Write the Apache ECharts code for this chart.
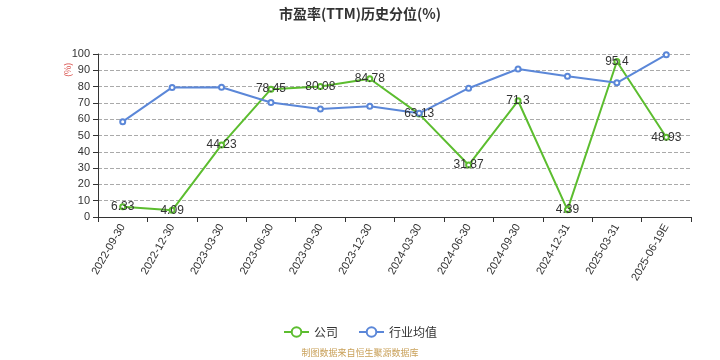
<!DOCTYPE html>
<html><head><meta charset="utf-8">
<script src="https://cdn.jsdelivr.net/npm/echarts@6/dist/echarts.min.js"></script>
<style>html,body{margin:0;padding:0;background:#fff}#c{width:720px;height:360px}</style>
</head><body><div id="c"></div>
<script>
var categories = ['2022-09-30','2022-12-30','2023-03-30','2023-06-30','2023-09-30','2023-12-30','2024-03-30','2024-06-30','2024-09-30','2024-12-31','2025-03-31','2025-06-19E'];
var companyValues = [6.33, 4.09, 44.23, 78.45, 80.08, 84.78, 63.13, 31.87, 71.3, 4.39, 95.4, 48.93];
var industryValues = [58.5, 79.5, 79.6, 70.2, 66.2, 67.9, 63.6, 79.0, 90.8, 86.3, 82.3, 99.6];
var yTicks = {min: 0, max: 100, interval: 10};

var chart = echarts.init(document.getElementById('c'));
chart.setOption({
  animation: false,
  title: {text: '市盈率(TTM)历史分位(%)', left: 'center', top: 2, textStyle: {fontSize: 14, fontWeight: 'bold', color: '#333', fontFamily: 'Noto Sans CJK SC'}},
  grid: {left: 98, right: 29, top: 54, bottom: 143},
  legend: {bottom: 17, itemWidth: 25, itemHeight: 12, itemGap: 20, textStyle: {fontSize: 12, color: '#333', fontFamily: 'Noto Sans CJK SC'}, data: ['公司', '行业均值']},
  graphic: [
    {type: 'text', left: 'center', top: 348, style: {text: '制图数据来自恒生聚源数据库', fontSize: 9, fill: '#c9a15a', fontFamily: 'Noto Sans CJK SC'}},
    {type: 'text', x: 63, y: 77, rotation: Math.PI / 2, style: {text: '(%)', fontSize: 9, fill: '#d9534f', fontFamily: 'Noto Sans CJK SC'}}
  ],
  xAxis: {
    type: 'category', data: categories, boundaryGap: true,
    axisLine: {lineStyle: {color: '#333'}},
    axisTick: {show: true, alignWithLabel: false, lineStyle: {color: '#333'}},
    axisLabel: {rotate: 60, fontSize: 11, color: '#333', interval: 0, margin: 8}
  },
  yAxis: {
    type: 'value', min: yTicks.min, max: yTicks.max, interval: yTicks.interval,
    axisLine: {show: true, lineStyle: {color: '#333'}},
    axisTick: {show: true, lineStyle: {color: '#333'}},
    axisLabel: {fontSize: 11, color: '#333'},
    splitLine: {lineStyle: {type: 'dashed', color: '#aaa'}}
  },
  series: [
    {name: '公司', type: 'line', data: companyValues, symbol: 'emptyCircle', symbolSize: 5,
     itemStyle: {color: '#5cbd2f', borderWidth: 1}, lineStyle: {width: 2, color: '#5cbd2f'},
     label: {show: true, position: 'inside', color: '#333', fontSize: 12}},
    {name: '行业均值', type: 'line', data: industryValues, symbol: 'emptyCircle', symbolSize: 5,
     itemStyle: {color: '#5b87d8', borderWidth: 1}, lineStyle: {width: 2, color: '#5b87d8'}}
  ]
});
</script></body></html>
